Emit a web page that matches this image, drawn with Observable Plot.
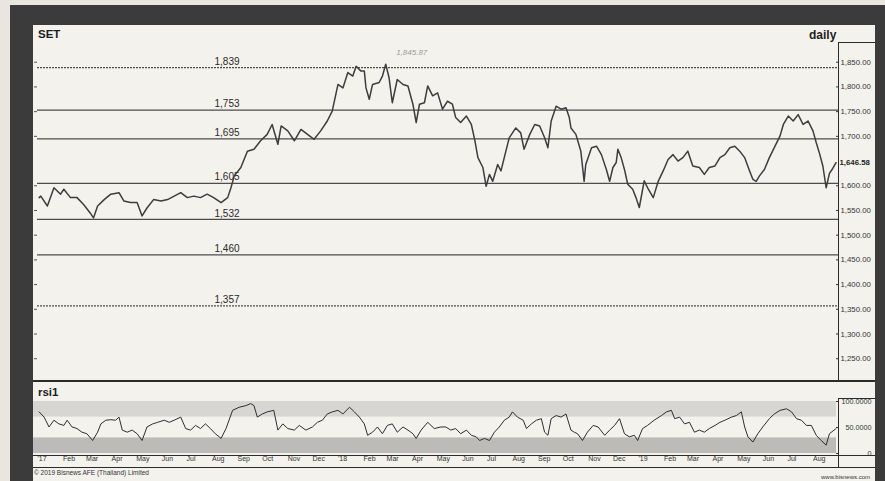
<!DOCTYPE html>
<html>
<head>
<meta charset="utf-8">
<script src="https://cdn.jsdelivr.net/npm/d3@7"></script>
<script src="https://cdn.jsdelivr.net/npm/@observablehq/plot@0.6"></script>
<style>
  html, body { margin: 0; padding: 0; }
  body { width: 885px; height: 481px; background: #e9e6df; position: relative; overflow: hidden;
         font-family: "Liberation Sans", Arial, sans-serif; }
  #frame { position: absolute; left: 10px; top: 5px; width: 875px; height: 476px; background: #3b3b3b; }
  #inner { position: absolute; left: 33px; top: 25px; width: 842px; height: 456px; background: #f4f2ed; overflow: hidden; }
  .abs { position: absolute; }
  .ln { position: absolute; background: #2b2b2b; }
  .lbl { position: absolute; font-weight: bold; font-size: 12px; color: #1e1e1e; line-height: 1; }
  .small { position: absolute; font-size: 6.5px; color: #333; line-height: 1; white-space: nowrap; }
</style>
</head>
<body>
<div id="frame"></div>
<div id="inner">
  <div id="main" class="abs" style="left:0;top:0"></div>
  <div id="rsi" class="abs" style="left:0;top:356px"></div>
  <div class="lbl" style="left:5px;top:4px;font-size:11.5px">SET</div>
  <div class="lbl" style="left:776px;top:4px">daily</div>
  <div class="lbl" style="left:5px;top:362px;font-size:11.5px">rsi1</div>
  <div class="ln" style="left:0;top:355px;width:842px;height:2px"></div>
  <div class="ln" style="left:805px;top:17px;width:1px;height:339px"></div>
  <div class="ln" style="left:805px;top:17px;width:37px;height:1px"></div>
  <div class="ln" style="left:805px;top:373px;width:37px;height:1px"></div>
  <div class="ln" style="left:805px;top:373px;width:1px;height:69px"></div>
  <div class="ln" style="left:0;top:430px;width:842px;height:1px"></div>
  <div class="ln" style="left:0;top:442px;width:842px;height:1px"></div>
  <div class="small" style="left:1px;top:445px">© 2019 Bisnews AFE (Thailand) Limited</div>
  <div class="small" style="left:788px;top:449px;font-size:6px">www.bisnews.com</div>
</div>
<script>
// ---------- data ----------
const priceDates = [
"2017-01-03","2017-01-05","2017-01-13","2017-01-21","2017-01-29","2017-02-02","2017-02-10","2017-02-18","2017-02-26","2017-03-06",
"2017-03-10","2017-03-15","2017-03-23","2017-03-31","2017-04-10","2017-04-16","2017-04-24","2017-05-02","2017-05-08","2017-05-14",
"2017-05-22","2017-05-31","2017-06-08","2017-06-16","2017-06-24","2017-07-02","2017-07-10","2017-07-18","2017-07-26","2017-08-03",
"2017-08-12","2017-08-20","2017-08-24","2017-08-28","2017-09-05","2017-09-13","2017-09-21","2017-09-29","2017-10-07","2017-10-13",
"2017-10-20","2017-10-24","2017-11-01","2017-11-09","2017-11-17","2017-11-25","2017-12-03","2017-12-11","2017-12-19","2017-12-25",
"2018-01-01","2018-01-07","2018-01-13","2018-01-19","2018-01-23","2018-01-29","2018-02-02","2018-02-04","2018-02-08","2018-02-12",
"2018-02-20","2018-02-24","2018-02-28","2018-03-04","2018-03-08","2018-03-14","2018-03-21","2018-03-27","2018-04-02","2018-04-06",
"2018-04-10","2018-04-16","2018-04-20","2018-04-26","2018-05-02","2018-05-08","2018-05-14","2018-05-20","2018-05-24","2018-05-30",
"2018-06-06","2018-06-12","2018-06-16","2018-06-20","2018-06-26","2018-06-30","2018-07-04","2018-07-08","2018-07-14","2018-07-18",
"2018-07-22","2018-07-28","2018-08-05","2018-08-11","2018-08-15","2018-08-22","2018-08-28","2018-09-03","2018-09-09","2018-09-13",
"2018-09-17","2018-09-23","2018-09-29","2018-10-05","2018-10-09","2018-10-11","2018-10-17","2018-10-23","2018-10-27","2018-10-29",
"2018-11-05","2018-11-11","2018-11-17","2018-11-23","2018-11-27","2018-12-01","2018-12-05","2018-12-07","2018-12-11","2018-12-15",
"2018-12-19","2018-12-25","2018-12-29","2019-01-02","2019-01-08","2019-01-13","2019-01-19","2019-01-25","2019-01-31","2019-02-06",
"2019-02-12","2019-02-18","2019-02-24","2019-03-02","2019-03-08","2019-03-16","2019-03-22","2019-03-28","2019-04-04","2019-04-10",
"2019-04-16","2019-04-22","2019-04-28","2019-05-04","2019-05-10","2019-05-16","2019-05-20","2019-05-24","2019-05-28","2019-06-03",
"2019-06-09","2019-06-15","2019-06-22","2019-06-26","2019-07-02","2019-07-08","2019-07-14","2019-07-20","2019-07-26","2019-08-01",
"2019-08-05","2019-08-09","2019-08-13","2019-08-17","2019-08-21","2019-08-25","2019-08-29"
];
const priceValues = [
1576,1579,1559,1596,1583,1593,1576,1576,1562,1545,
1535,1559,1572,1583,1586,1569,1566,1566,1539,1555,
1572,1569,1572,1579,1586,1576,1579,1576,1583,1576,
1566,1576,1596,1620,1637,1670,1674,1691,1704,1724,
1684,1721,1711,1691,1714,1704,1694,1711,1731,1751,
1805,1798,1829,1822,1842,1832,1832,1798,1775,1805,
1809,1822,1846,1819,1768,1815,1805,1802,1765,1728,
1765,1768,1802,1782,1788,1755,1771,1765,1738,1728,
1741,1724,1694,1657,1637,1599,1623,1609,1643,1630,
1657,1697,1717,1707,1674,1704,1724,1721,1697,1677,
1731,1761,1755,1758,1738,1717,1704,1670,1609,1643,
1677,1680,1663,1633,1609,1637,1647,1674,1657,1633,
1603,1593,1576,1556,1610,1593,1576,1609,1630,1653,
1663,1650,1657,1670,1640,1637,1623,1637,1640,1657,
1663,1677,1680,1670,1657,1630,1613,1609,1620,1633,
1657,1677,1701,1724,1741,1731,1744,1724,1731,1711,
1687,1665,1640,1596,1625,1635,1646.58
];
const rsiDates = [
"2017-01-03","2017-01-09","2017-01-15","2017-01-21","2017-01-27","2017-02-02","2017-02-06","2017-02-12","2017-02-18","2017-02-24",
"2017-03-02","2017-03-09","2017-03-15","2017-03-19","2017-03-25","2017-03-31","2017-04-06","2017-04-10","2017-04-14","2017-04-20",
"2017-04-26","2017-05-02","2017-05-08","2017-05-14","2017-05-21","2017-05-27","2017-06-04","2017-06-10","2017-06-16","2017-06-24",
"2017-06-30","2017-07-06","2017-07-12","2017-07-18","2017-07-24","2017-07-30","2017-08-05","2017-08-12","2017-08-18","2017-08-26",
"2017-09-03","2017-09-11","2017-09-17","2017-09-21","2017-09-25","2017-10-01","2017-10-07","2017-10-15","2017-10-20","2017-10-26",
"2017-11-01","2017-11-09","2017-11-15","2017-11-23","2017-12-01","2017-12-07","2017-12-13","2017-12-19","2017-12-25","2018-01-01",
"2018-01-07","2018-01-15","2018-01-21","2018-01-27","2018-02-02","2018-02-06","2018-02-12","2018-02-18","2018-02-24","2018-03-02",
"2018-03-08","2018-03-14","2018-03-21","2018-03-27","2018-04-02","2018-04-06","2018-04-12","2018-04-20","2018-04-28","2018-05-06",
"2018-05-12","2018-05-18","2018-05-24","2018-05-30","2018-06-06","2018-06-12","2018-06-18","2018-06-22","2018-06-28","2018-07-04",
"2018-07-10","2018-07-16","2018-07-22","2018-07-28","2018-08-01","2018-08-07","2018-08-14","2018-08-18","2018-08-24","2018-08-30",
"2018-09-05","2018-09-09","2018-09-13","2018-09-17","2018-09-23","2018-09-29","2018-10-05","2018-10-11","2018-10-15","2018-10-19",
"2018-10-25","2018-10-31","2018-11-07","2018-11-13","2018-11-21","2018-11-27","2018-12-03","2018-12-09","2018-12-15","2018-12-21",
"2018-12-27","2018-12-31","2019-01-06","2019-01-12","2019-01-20","2019-01-29","2019-02-04","2019-02-10","2019-02-14","2019-02-20",
"2019-02-26","2019-03-04","2019-03-10","2019-03-16","2019-03-22","2019-03-28","2019-04-04","2019-04-10","2019-04-16","2019-04-24",
"2019-04-30","2019-05-06","2019-05-10","2019-05-14","2019-05-20","2019-05-26","2019-06-01","2019-06-09","2019-06-15","2019-06-22",
"2019-06-30","2019-07-06","2019-07-12","2019-07-18","2019-07-24","2019-07-30","2019-08-05","2019-08-11","2019-08-17","2019-08-21",
"2019-08-29"
];
const rsiValues = [
80,70,51,64,57,54,64,51,48,41,
38,25,41,57,64,65,64,70,45,41,
45,38,25,51,57,60,64,60,64,70,
48,45,54,48,57,48,38,29,48,83,
89,92,96,92,70,76,80,83,45,57,
48,45,54,45,51,60,64,76,80,83,
76,89,80,70,57,35,41,51,38,54,
57,41,51,45,38,29,45,60,48,51,
51,45,48,38,45,35,32,25,29,25,
41,51,64,70,80,70,64,48,57,64,
67,41,35,67,73,70,76,45,41,38,
25,41,54,51,35,45,54,67,38,32,
35,25,48,54,64,73,80,83,67,70,
57,60,41,45,41,48,54,60,64,70,
73,80,51,32,22,38,51,67,76,83,
86,80,67,64,54,54,35,25,16,38,
48
];
const levels = [1839, 1753, 1695, 1605, 1532, 1460, 1357];
const priceTicks = [1250, 1300, 1350, 1400, 1450, 1500, 1550, 1600, 1700, 1750, 1800, 1850];
const lastValue = 1646.58;
const peakLabel = "1,845.87";
const rsiTicks = [0, 50, 100];
const rsiBands = [{lo: 0, hi: 30, fill: "#bcbbb8"}, {lo: 70, hi: 100, fill: "#d7d6d2"}];
const monthLabels = [
"'17","Feb","Mar","Apr","May","Jun","Jul","Aug","Sep","Oct","Nov","Dec",
"'18","Feb","Mar","Apr","May","Jun","Jul","Aug","Sep","Oct","Nov","Dec",
"'19","Feb","Mar","Apr","May","Jun","Jul","Aug"
];

// ---------- build tables ----------
const parse = d3.utcParse("%Y-%m-%d");
const price = priceDates.map((d, i) => ({date: parse(d), value: priceValues[i]}));
const rsi = rsiDates.map((d, i) => ({date: parse(d), value: rsiValues[i]}));
const xDomain = [new Date(Date.UTC(2017, 0, 1)), new Date(Date.UTC(2019, 8, 1))];
const monthStarts = d3.utcMonth.range(xDomain[0], xDomain[1]);
const monthLabel = d => monthLabels[(d.getUTCFullYear() - 2017) * 12 + d.getUTCMonth()];
const peak = price.reduce((a, b) => (b.value > a.value ? b : a));
const dashed = levels.filter(d => d === d3.max(levels) || d === d3.min(levels));
const solid = levels.filter(d => !dashed.includes(d));

const W = 842;
const font = "'Liberation Sans', Arial, sans-serif";

const mainPlot = Plot.plot({
  width: W, height: 356,
  marginLeft: 4, marginRight: 37, marginTop: 12, marginBottom: 3,
  style: {background: "transparent", fontFamily: font, color: "#222"},
  x: {type: "utc", domain: xDomain, axis: null},
  y: {domain: [1210, 1900], axis: null},
  marks: [
    Plot.ruleY(solid, {stroke: "#4d4d4d", strokeWidth: 1.3}),
    Plot.ruleY(dashed, {stroke: "#4d4d4d", strokeWidth: 1.3, strokeDasharray: "2,1"}),
    Plot.text(levels, {y: d => d, text: d => d3.format(",")(d), frameAnchor: "left", dx: 177, dy: -6,
      fontSize: 10, fill: "#2a2a2a"}),
    Plot.line(price, {x: "date", y: "value", stroke: "#3d3d3d", strokeWidth: 1.5}),
    Plot.text([peak], {x: "date", y: "value", text: () => peakLabel, dx: 26, dy: -12,
      fontSize: 8, fontStyle: "italic", fill: "#9a9a9a"}),
    Plot.axisY({anchor: "right", label: null, ticks: priceTicks, tickFormat: d3.format(",.2f"), tickSize: -3, tickPadding: 5,
      fontSize: 7.8, fill: "#333", stroke: "#333"}),
    Plot.axisY({anchor: "left", label: null, ticks: priceTicks, tickFormat: () => "", tickSize: 3, stroke: "#555"}),
    Plot.text([lastValue], {y: d => d, text: d => d3.format(",.2f")(d), frameAnchor: "right", dx: 1,
      textAnchor: "start", fontSize: 7.8, fill: "#222", fontWeight: "bold"})
  ]
});
document.getElementById("main").appendChild(mainPlot);

const rsiPlot = Plot.plot({
  width: W, height: 87,
  marginLeft: 4, marginRight: 37, marginTop: 20, marginBottom: 15,
  style: {background: "transparent", fontFamily: font, color: "#222"},
  x: {type: "utc", domain: xDomain},
  y: {domain: [0, 100], axis: null},
  marks: [
    Plot.barY(rsiBands, {y1: "lo", y2: "hi", fill: "fill", insetLeft: -4, insetRight: 2}),
    Plot.line(rsi, {x: "date", y: "value", stroke: "#2e2e2e", strokeWidth: 1}),
    Plot.axisY({anchor: "right", label: null, ticks: rsiTicks, tickFormat: d => (d === 0 ? "0" : d3.format(".4f")(d)),
      tickSize: -3, tickPadding: 36, textAnchor: "end", fontSize: 7.2, fill: "#333", stroke: "#333"}),
    Plot.axisX({label: null, ticks: monthStarts, tickFormat: monthLabel, tickSize: 0, tickPadding: 3,
      textAnchor: "start", fontSize: 7, fill: "#333"})
  ]
});
document.getElementById("rsi").appendChild(rsiPlot);
</script>
</body>
</html>
